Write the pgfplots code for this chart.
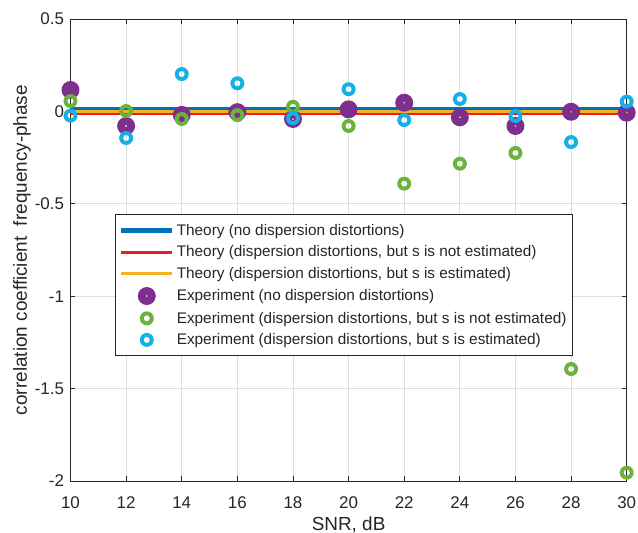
\documentclass[border=0pt]{standalone}
\usepackage{pgfplots}
\pgfplotsset{compat=1.18}
\usepackage{fontspec}
\setmainfont{Liberation Sans}
\definecolor{mblue}{RGB}{0,114,189}
\definecolor{mred}{RGB}{237,28,36}
\definecolor{myellow}{RGB}{240,180,30}
\definecolor{mpurple}{RGB}{126,47,142}
\definecolor{mgreen}{RGB}{108,178,60}
\definecolor{mcyan}{RGB}{20,176,230}
\definecolor{axgray}{RGB}{38,38,38}
\pgfdeclareplotmark{pring}{%
  \pgfpathcircle{\pgfpointorigin}{\pgfplotmarksize}%
  \pgfpathcircle{\pgfpointorigin}{0.13\pgfplotmarksize}%
  \pgfseteorule\pgfusepathqfill}
\pgfdeclareplotmark{tring}{%
  \pgfpathcircle{\pgfpointorigin}{\pgfplotmarksize}%
  \pgfpathcircle{\pgfpointorigin}{0.44\pgfplotmarksize}%
  \pgfseteorule\pgfusepathqfill}
\pgfplotsset{
  lineleg/.style={legend image code/.code={\draw[##1] (0bp,0bp) -- (51bp,0bp);}},
  markleg/.style={legend image code/.code={\draw[##1] plot coordinates {(25.5bp,0bp)};}},
}
\begin{document}
\begin{tikzpicture}
\begin{axis}[
  scale only axis, width=556.2bp, height=462bp,
  xmin=10, xmax=30, ymin=-2, ymax=0.5,
  xtick={10,12,14,16,18,20,22,24,26,28,30},
  ytick={-2,-1.5,-1,-0.5,0,0.5},
  yticklabels={-2,-1.5,-1,-0.5,0,0.5},
  xticklabels={10,12,14,16,18,20,22,24,26,28,30},
  grid=major, major grid style={draw=black!13, line width=0.9bp},
  axis line style={draw=axgray, line width=0.8bp},
  tick style={draw=axgray, line width=0.8bp},
  tick align=inside, major tick length=5bp,
  ticklabel style={font=\fontsize{17}{19}\selectfont, text=axgray},
  xticklabel style={yshift=-12bp},
  yticklabel style={xshift=-3bp},
  /pgf/number format/assume math mode=true,
  xlabel={SNR, dB}, ylabel={correlation coefficient\ \ frequency-phase},
  label style={font=\fontsize{19}{21}\selectfont, text=axgray},
  xlabel style={at={(axis description cs:0.5,-0.095)}, anchor=center},
  ylabel style={at={(axis description cs:-0.0872,0.5)}, anchor=center},
  clip=false,
  legend cell align=left,
  legend style={at={(0.08,0.577)}, anchor=north west, draw=axgray, line width=0.6bp,
    fill=white, font=\fontsize{15.4}{17}\selectfont, text=axgray, row sep=5bp,
    inner xsep=3.5bp, inner ysep=7.5bp},
]
\addplot[mblue, line width=5bp, lineleg] coordinates {(10,0.009) (30,0.009)};
\addlegendentry{Theory (no dispersion distortions)}
\addplot[mred, line width=3bp, lineleg] coordinates {(10,-0.013) (30,-0.013)};
\addlegendentry{Theory (dispersion distortions, but s is not estimated)}
\addplot[myellow, line width=3bp, lineleg] coordinates {(10,0.001) (30,0.001)};
\addlegendentry{Theory (dispersion distortions, but s is estimated)}
\addplot[only marks, mark=pring, mark size=9bp, mark options={fill=mpurple, draw=none}, markleg] coordinates {
(10,0.116)(12,-0.079)(14,-0.019)(16,-0.004)(18,-0.041)(20,0.011)(22,0.047)(24,-0.032)(26,-0.079)(28,-0.002)(30,-0.007)};
\addlegendentry{Experiment (no dispersion distortions)}
\addplot[only marks, mark=tring, mark size=7bp, mark options={fill=mgreen, draw=none}, markleg] coordinates {
(10,0.056)(12,0.002)(14,-0.041)(16,-0.020)(18,0.025)(20,-0.079)(22,-0.391)(24,-0.283)(26,-0.225)(28,-1.394)(30,-1.955)};
\addlegendentry{Experiment (dispersion distortions, but s is not estimated)}
\addplot[only marks, mark=tring, mark size=7bp, mark options={fill=mcyan, draw=none}, markleg] coordinates {
(10,-0.023)(12,-0.144)(14,0.202)(16,0.152)(18,-0.037)(20,0.120)(22,-0.047)(24,0.067)(26,-0.025)(28,-0.166)(30,0.053)};
\addlegendentry{Experiment (dispersion distortions, but s is estimated)}
\end{axis}
\pgfresetboundingbox
\path[use as bounding box] (-70.5bp,-52bp) rectangle (567.5bp,481bp);
\end{tikzpicture}
\end{document}
